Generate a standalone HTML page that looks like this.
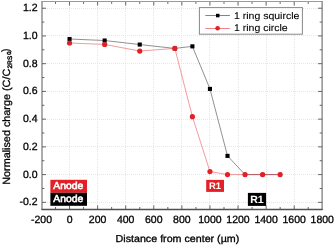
<!DOCTYPE html>
<html><head><meta charset="utf-8"><style>
html,body{margin:0;padding:0;background:#fff;width:335px;height:246px;overflow:hidden}
svg{display:block;font-family:"Liberation Sans", sans-serif;will-change:transform}
text{stroke-width:0.3px;text-rendering:geometricPrecision}
</style></head><body>
<svg width="335" height="246" viewBox="0 0 335 246" font-family='"Liberation Sans", sans-serif'>
<path d="M69.50 3V209 M97.50 3V209 M125.50 3V209 M153.50 3V209 M181.50 3V209 M209.50 3V209 M238.50 3V209 M266.50 3V209 M294.50 3V209 M43 202.50H322 M43 174.50H322 M43 146.50H322 M43 119.50H322 M43 91.50H322 M43 63.50H322 M43 35.50H322 M43 8.50H322" stroke="#e6e6e6" stroke-width="1" stroke-dasharray="1 1" fill="none"/>
<path d="M55.51 209.40v-2.4 M55.51 1.50v2.4 M69.55 209.40v-4 M69.55 1.50v4 M83.59 209.40v-2.4 M83.59 1.50v2.4 M97.63 209.40v-4 M97.63 1.50v4 M111.67 209.40v-2.4 M111.67 1.50v2.4 M125.71 209.40v-4 M125.71 1.50v4 M139.75 209.40v-2.4 M139.75 1.50v2.4 M153.79 209.40v-4 M153.79 1.50v4 M167.83 209.40v-2.4 M167.83 1.50v2.4 M181.87 209.40v-4 M181.87 1.50v4 M195.91 209.40v-2.4 M195.91 1.50v2.4 M209.95 209.40v-4 M209.95 1.50v4 M223.99 209.40v-2.4 M223.99 1.50v2.4 M238.03 209.40v-4 M238.03 1.50v4 M252.07 209.40v-2.4 M252.07 1.50v2.4 M266.11 209.40v-4 M266.11 1.50v4 M280.15 209.40v-2.4 M280.15 1.50v2.4 M294.19 209.40v-4 M294.19 1.50v4 M308.23 209.40v-2.4 M308.23 1.50v2.4 M42.00 202.33h4 M322.10 202.33h-4 M42.00 188.47h2.4 M322.10 188.47h-2.4 M42.00 174.60h4 M322.10 174.60h-4 M42.00 160.73h2.4 M322.10 160.73h-2.4 M42.00 146.87h4 M322.10 146.87h-4 M42.00 133.00h2.4 M322.10 133.00h-2.4 M42.00 119.14h4 M322.10 119.14h-4 M42.00 105.27h2.4 M322.10 105.27h-2.4 M42.00 91.41h4 M322.10 91.41h-4 M42.00 77.54h2.4 M322.10 77.54h-2.4 M42.00 63.68h4 M322.10 63.68h-4 M42.00 49.81h2.4 M322.10 49.81h-2.4 M42.00 35.95h4 M322.10 35.95h-4 M42.00 22.08h2.4 M322.10 22.08h-2.4 M42.00 8.22h4 M322.10 8.22h-4" stroke="#666" stroke-width="1" fill="none"/>
<path d="M42 1V210" stroke="#5a5a5a" stroke-width="1"/>
<path d="M322.1 1V210" stroke="#5a5a5a" stroke-width="1"/>
<path d="M41.5 1.5H322.6" stroke="#9a9a9a" stroke-width="1"/>
<path d="M41.5 209.45H322.6" stroke="#505050" stroke-width="1.6"/>
<polyline points="69.55,39.00 104.65,40.53 139.75,44.55 174.85,48.43 192.40,46.35 209.95,88.91 227.50,155.88 245.05,174.60 262.60,174.60 280.15,174.60" stroke="#222" stroke-width="0.5" fill="none"/>
<rect x="67.50" y="36.95" width="4.1" height="4.1" fill="#000"/>
<rect x="102.60" y="38.48" width="4.1" height="4.1" fill="#000"/>
<rect x="137.70" y="42.50" width="4.1" height="4.1" fill="#000"/>
<rect x="172.80" y="46.38" width="4.1" height="4.1" fill="#000"/>
<rect x="190.35" y="44.30" width="4.1" height="4.1" fill="#000"/>
<rect x="207.90" y="86.86" width="4.1" height="4.1" fill="#000"/>
<rect x="225.45" y="153.83" width="4.1" height="4.1" fill="#000"/>
<rect x="243.30" y="172.85" width="3.5" height="3.5" fill="#000"/>
<rect x="260.85" y="172.85" width="3.5" height="3.5" fill="#000"/>
<rect x="278.40" y="172.85" width="3.5" height="3.5" fill="#000"/>
<polyline points="69.55,43.02 104.65,44.41 139.75,51.06 174.85,48.43 192.40,116.64 209.95,171.55 227.50,174.60 245.05,174.60 262.60,174.60 280.15,174.60" stroke="#e41f26" stroke-width="0.45" fill="none"/>
<circle cx="69.55" cy="43.02" r="2.6" fill="#e41f26"/>
<circle cx="104.65" cy="44.41" r="2.6" fill="#e41f26"/>
<circle cx="139.75" cy="51.06" r="2.6" fill="#e41f26"/>
<circle cx="174.85" cy="48.43" r="2.6" fill="#e41f26"/>
<circle cx="192.40" cy="116.64" r="2.6" fill="#e41f26"/>
<circle cx="209.95" cy="171.55" r="2.6" fill="#e41f26"/>
<circle cx="227.50" cy="174.60" r="2.6" fill="#e41f26"/>
<circle cx="245.05" cy="174.60" r="2.6" fill="#e41f26"/>
<circle cx="262.60" cy="174.60" r="2.6" fill="#e41f26"/>
<circle cx="280.15" cy="174.60" r="2.6" fill="#e41f26"/>
<rect x="199.4" y="7.6" width="103" height="26.6" fill="#fff" stroke="#888" stroke-width="1"/>
<path d="M205.3 15.5H229.9" stroke="#333" stroke-width="0.6"/>
<rect x="216" y="13.8" width="3.5" height="3.5" fill="#000"/>
<path d="M205.3 28.5H229.9" stroke="#e41f26" stroke-width="0.55"/>
<circle cx="217.6" cy="28.3" r="2.3" fill="#e41f26"/>
<text stroke="#000" x="234" y="18.5" font-size="9.7" style="stroke-width:0.1px" textLength="65.35" lengthAdjust="spacingAndGlyphs">1 ring squircle</text>
<text stroke="#000" x="234" y="30.9" font-size="9.7" style="stroke-width:0.1px" textLength="53.68" lengthAdjust="spacingAndGlyphs">1 ring circle</text>
<text stroke="#000" x="41.47" y="223.3" font-size="10.5" text-anchor="middle">-200</text>
<text stroke="#000" x="69.55" y="223.3" font-size="10.5" text-anchor="middle">0</text>
<text stroke="#000" x="97.63" y="223.3" font-size="10.5" text-anchor="middle">200</text>
<text stroke="#000" x="125.71" y="223.3" font-size="10.5" text-anchor="middle">400</text>
<text stroke="#000" x="153.79" y="223.3" font-size="10.5" text-anchor="middle">600</text>
<text stroke="#000" x="181.87" y="223.3" font-size="10.5" text-anchor="middle">800</text>
<text stroke="#000" x="209.95" y="223.3" font-size="10.5" text-anchor="middle">1000</text>
<text stroke="#000" x="238.03" y="223.3" font-size="10.5" text-anchor="middle">1200</text>
<text stroke="#000" x="266.11" y="223.3" font-size="10.5" text-anchor="middle">1400</text>
<text stroke="#000" x="294.19" y="223.3" font-size="10.5" text-anchor="middle">1600</text>
<text stroke="#000" x="322.27" y="223.3" font-size="10.5" text-anchor="middle">1800</text>
<text stroke="#000" x="37.5" y="205.43" font-size="10.5" text-anchor="end">-0.2</text>
<text stroke="#000" x="37.5" y="177.70" font-size="10.5" text-anchor="end">0.0</text>
<text stroke="#000" x="37.5" y="149.97" font-size="10.5" text-anchor="end">0.2</text>
<text stroke="#000" x="37.5" y="121.64" font-size="10.5" text-anchor="end">0.4</text>
<text stroke="#000" x="37.5" y="93.61" font-size="10.5" text-anchor="end">0.6</text>
<text stroke="#000" x="37.5" y="66.78" font-size="10.5" text-anchor="end">0.8</text>
<text stroke="#000" x="37.5" y="39.05" font-size="10.5" text-anchor="end">1.0</text>
<text stroke="#000" x="37.5" y="11.32" font-size="10.5" text-anchor="end">1.2</text>
<text stroke="#000" x="115.6" y="242.1" font-size="10.1" textLength="123.7" lengthAdjust="spacingAndGlyphs">Distance from center (µm)</text>
<g transform="translate(10.1 184.8) rotate(-90) scale(1.03 1)"><text stroke="#000" x="0" y="0" font-size="10.5">Normalised charge (C/C</text></g>
<g transform="translate(12.0 68.4) rotate(-90)"><text stroke="#000" x="0" y="0" font-size="6.4" letter-spacing="0.15" style="stroke-width:0.4px">2RS</text></g>
<g transform="translate(11.1 54.7) rotate(-90)"><text stroke="#000" x="0" y="0" font-size="5.9" style="stroke-width:0.4px">0</text></g>
<g transform="translate(9.1 52.1) rotate(-90)"><text stroke="#000" x="0" y="0" font-size="10.5">)</text></g>
<rect x="50.4" y="179.8" width="36.6" height="13" fill="#e41f26"/>
<text x="53.30" y="188.60" font-size="10" fill="#fff" stroke="#fff" style="stroke-width:0.6px" font-weight="normal" textLength="29.9" lengthAdjust="spacingAndGlyphs">Anode</text>
<rect x="50.4" y="192.8" width="36.6" height="13" fill="#000"/>
<text x="53.30" y="201.70" font-size="10" fill="#fff" stroke="#fff" style="stroke-width:0.6px" font-weight="normal" textLength="29.9" lengthAdjust="spacingAndGlyphs">Anode</text>
<rect x="206.2" y="179.9" width="17.8" height="12" fill="#e41f26"/>
<text x="215.10" y="189.30" font-size="9.4" fill="#fff" stroke="#fff" style="stroke-width:0.05px" font-weight="bold" text-anchor="middle">R1</text>
<rect x="247.9" y="192.9" width="18.2" height="13" fill="#000"/>
<text x="257.00" y="203.00" font-size="10.5" fill="#fff" stroke="#fff" style="stroke-width:0.05px" font-weight="bold" text-anchor="middle">R1</text>
</svg>
</body></html>
